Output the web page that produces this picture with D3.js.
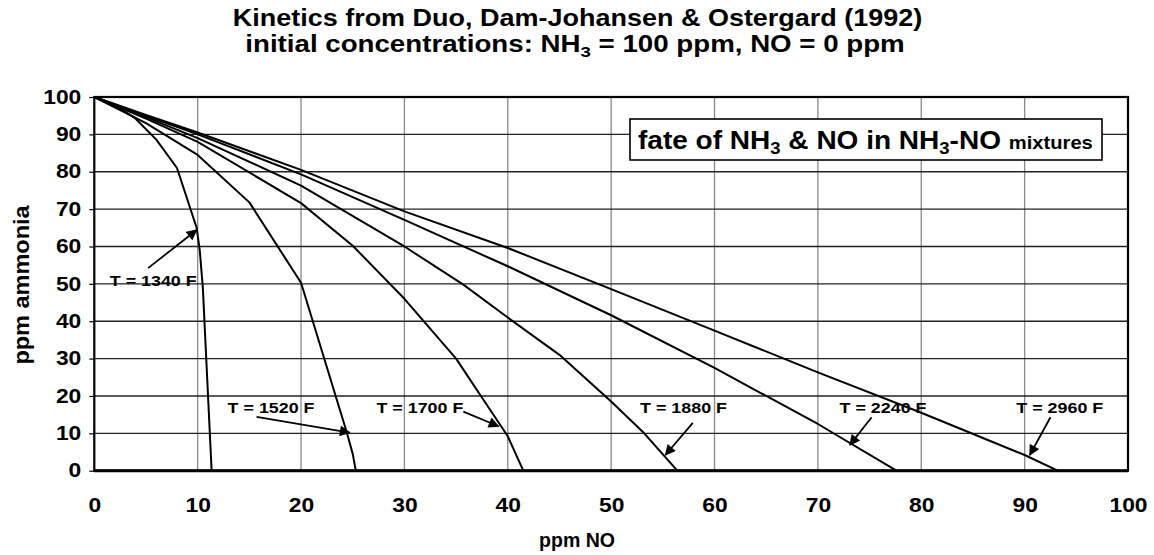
<!DOCTYPE html>
<html>
<head>
<meta charset="utf-8">
<script src="https://cdn.jsdelivr.net/npm/d3@7"></script>
<style>
  html, body { margin: 0; padding: 0; background: #fff; }
  svg { display: block; font-family: "Liberation Sans", Arial, sans-serif; font-weight: bold; }
</style>
</head>
<body>
<svg id="chart" width="1154" height="555"></svg>
<script>
// Ammonia remaining vs NO formed, one curve per temperature
const temps = ["1340", "1520", "1700", "1880", "2240", "2960"];

const noT1340  = [0, 2, 4, 6, 8, 9.9, 10.2, 10.5, 11.35];
const nh3T1340 = [100, 97.8, 94.2, 88.6, 81, 65, 59, 49, 0];

const noT1520  = [0, 5, 10, 15, 20, 24.4, 25, 25.3];
const nh3T1520 = [100, 93, 84.5, 71.8, 50.3, 10.5, 4.5, 0];

const noT1700  = [0, 5, 10, 20, 25, 30, 35, 37.4, 40, 41.5];
const nh3T1700 = [100, 94.2, 88, 71.6, 60.2, 46, 30, 20, 9.2, 0];

const noT1880  = [0, 5, 10, 20, 30, 35.7, 40, 45, 50, 53.2, 56.4];
const nh3T1880 = [100, 94.6, 89, 76.3, 60, 49.8, 41, 31, 18.5, 10, 0];

const noT2240  = [0, 5, 10, 20, 30, 40, 50, 60, 65, 70, 77.6];
const nh3T2240 = [100, 95, 90, 79.3, 67.1, 54.7, 41.6, 27.5, 20, 12.5, 0];

const noT2960  = [0, 5, 10, 20, 30, 40, 50, 60, 70, 80, 90, 93.2];
const nh3T2960 = [100, 95.2, 90.5, 80.5, 69.4, 59.6, 48.6, 37.5, 26.3, 15.5, 4.2, 0];

const xTicks = [0, 10, 20, 30, 40, 50, 60, 70, 80, 90, 100];
const yTicks = [0, 10, 20, 30, 40, 50, 60, 70, 80, 90, 100];

// label anchor (data coords) and arrow from -> to (data coords)
const labelX = [5.7, 17.1, 31.5, 57.0, 76.3, 93.4];
const labelY = [51.0, 16.8, 16.8, 16.8, 16.8, 16.8];
const arrowFromX = [5.2, 15.7, 35.7, 57.9, 75.2, 92.5];
const arrowFromY = [54.2, 14.4, 15.8, 12.8, 14.3, 14.3];
const arrowToX = [9.9, 24.7, 39.1, 55.25, 73.1, 90.5];
const arrowToY = [64.4, 10.2, 11.9, 4.2, 6.9, 4.2];

const series = [
  {t: temps[0], x: noT1340, y: nh3T1340},
  {t: temps[1], x: noT1520, y: nh3T1520},
  {t: temps[2], x: noT1700, y: nh3T1700},
  {t: temps[3], x: noT1880, y: nh3T1880},
  {t: temps[4], x: noT2240, y: nh3T2240},
  {t: temps[5], x: noT2960, y: nh3T2960}
];

const svg = d3.select("#chart");
const plotL = 94.3, plotR = 1128, plotT = 97, plotB = 470.7;
const squeeze = 1.17; // the type is set slightly wide

const x = d3.scaleLinear().domain([0, 100]).range([plotL, plotR]);
const y = d3.scaleLinear().domain([0, 100]).range([plotB, plotT]);

// place a text in its own group and stretch it horizontally to a given width
function widened(parent, cx, cy, width, anchor, build) {
  const g = parent.append("g");
  const t = g.append("text").attr("text-anchor", anchor);
  build(t);
  const w = t.node().getBBox().width;
  g.attr("transform", `translate(${cx},${cy}) scale(${width / w},1)`);
  return g;
}

// arrowhead
svg.append("defs").append("marker")
  .attr("id", "head")
  .attr("viewBox", "0 0 10 10")
  .attr("refX", 9).attr("refY", 5)
  .attr("markerWidth", 6.5).attr("markerHeight", 6)
  .attr("orient", "auto")
  .append("path").attr("d", "M0,0 L10,5 L0,10 Z").attr("fill", "#000");

// titles
widened(svg, 577.5, 26, 690, "middle", t => t.attr("font-size", 23)
  .text("Kinetics from Duo, Dam-Johansen & Ostergard (1992)"));
widened(svg, 575, 52, 660, "middle", t => {
  t.attr("font-size", 23);
  t.append("tspan").text("initial concentrations: NH");
  t.append("tspan").attr("font-size", 15.5).attr("dy", 5).text("3");
  t.append("tspan").attr("dy", -5).text(" = 100 ppm, NO = 0 ppm");
});

// vertical grid
svg.append("g")
  .selectAll("line").data(xTicks.slice(1, -1)).join("line")
  .attr("x1", d => x(d)).attr("x2", d => x(d))
  .attr("y1", plotT).attr("y2", plotB)
  .attr("stroke", "#8a8a8a").attr("stroke-width", 1.3);

// horizontal grid
svg.append("g")
  .selectAll("line").data(yTicks.slice(1, -1)).join("line")
  .attr("x1", plotL).attr("x2", plotR)
  .attr("y1", d => y(d)).attr("y2", d => y(d))
  .attr("stroke", "#222").attr("stroke-width", 1.4);

// y axis
const yAxis = svg.append("g").attr("transform", `translate(${plotL},0)`)
  .call(d3.axisLeft(y).tickValues(yTicks).tickSize(5).tickPadding(9));
yAxis.select(".domain").remove();
yAxis.selectAll("line").attr("stroke", "#000").attr("stroke-width", 1.2);
yAxis.selectAll("text")
  .attr("font-size", 19.5).attr("font-family", "Liberation Sans, Arial, sans-serif")
  .attr("font-weight", "bold").attr("fill", "#000")
  .attr("x", 0).attr("transform", `translate(-13,0) scale(${squeeze},1)`);

// x axis
const xAxis = svg.append("g").attr("transform", `translate(0,${plotB})`)
  .call(d3.axisBottom(x).tickValues(xTicks).tickSize(0).tickPadding(27));
xAxis.select(".domain").remove();
xAxis.selectAll("text")
  .attr("font-size", 19.5).attr("font-family", "Liberation Sans, Arial, sans-serif")
  .attr("font-weight", "bold").attr("fill", "#000")
  .attr("transform", `scale(${squeeze},1)`);

// plot frame
svg.append("rect").attr("x", plotL).attr("y", plotT)
  .attr("width", plotR - plotL).attr("height", plotB - plotT)
  .attr("fill", "none").attr("stroke", "#000").attr("stroke-width", 2.2);
svg.append("line").attr("x1", plotL).attr("x2", plotR).attr("y1", plotB).attr("y2", plotB)
  .attr("stroke", "#000").attr("stroke-width", 3);

// axis titles
widened(svg, 577, 547, 76, "middle", t => t.attr("font-size", 20).text("ppm NO"));
const yTitle = svg.append("g").attr("transform", "translate(29,285) rotate(-90)");
widened(yTitle, 0, 0, 160, "middle", t => t.attr("font-size", 22).text("ppm ammonia"));

// curves
const line = d3.line().x(d => x(d[0])).y(d => y(d[1]));
svg.append("g").selectAll("path").data(series).join("path")
  .attr("d", s => line(s.x.map((v, i) => [v, s.y[i]])))
  .attr("fill", "none").attr("stroke", "#000").attr("stroke-width", 2)
  .attr("stroke-linejoin", "round");

// temperature labels with arrows
const ann = svg.append("g");
temps.forEach((t, i) => {
  ann.append("line")
    .attr("x1", x(arrowFromX[i])).attr("y1", y(arrowFromY[i]))
    .attr("x2", x(arrowToX[i])).attr("y2", y(arrowToY[i]))
    .attr("stroke", "#000").attr("stroke-width", 1.8)
    .attr("marker-end", "url(#head)");
  widened(ann, x(labelX[i]), y(labelY[i]) + 5.5, 87, "middle",
    s => s.attr("font-size", 15.5).text(`T = ${t} F`));
});

// legend box
const lg = svg.append("g");
lg.append("rect").attr("x", 630).attr("y", 119).attr("width", 472).attr("height", 41)
  .attr("fill", "#fff").attr("stroke", "#000").attr("stroke-width", 1.6);
widened(lg, 638, 148.5, 455, "start", t => {
  t.attr("font-size", 25);
  t.append("tspan").text("fate of NH");
  t.append("tspan").attr("font-size", 16.5).attr("dy", 5).text("3");
  t.append("tspan").attr("dy", -5).text(" & NO in NH");
  t.append("tspan").attr("font-size", 16.5).attr("dy", 5).text("3");
  t.append("tspan").attr("dy", -5).text("-NO ");
  t.append("tspan").attr("font-size", 18).text("mixtures");
});
</script>
</body>
</html>
